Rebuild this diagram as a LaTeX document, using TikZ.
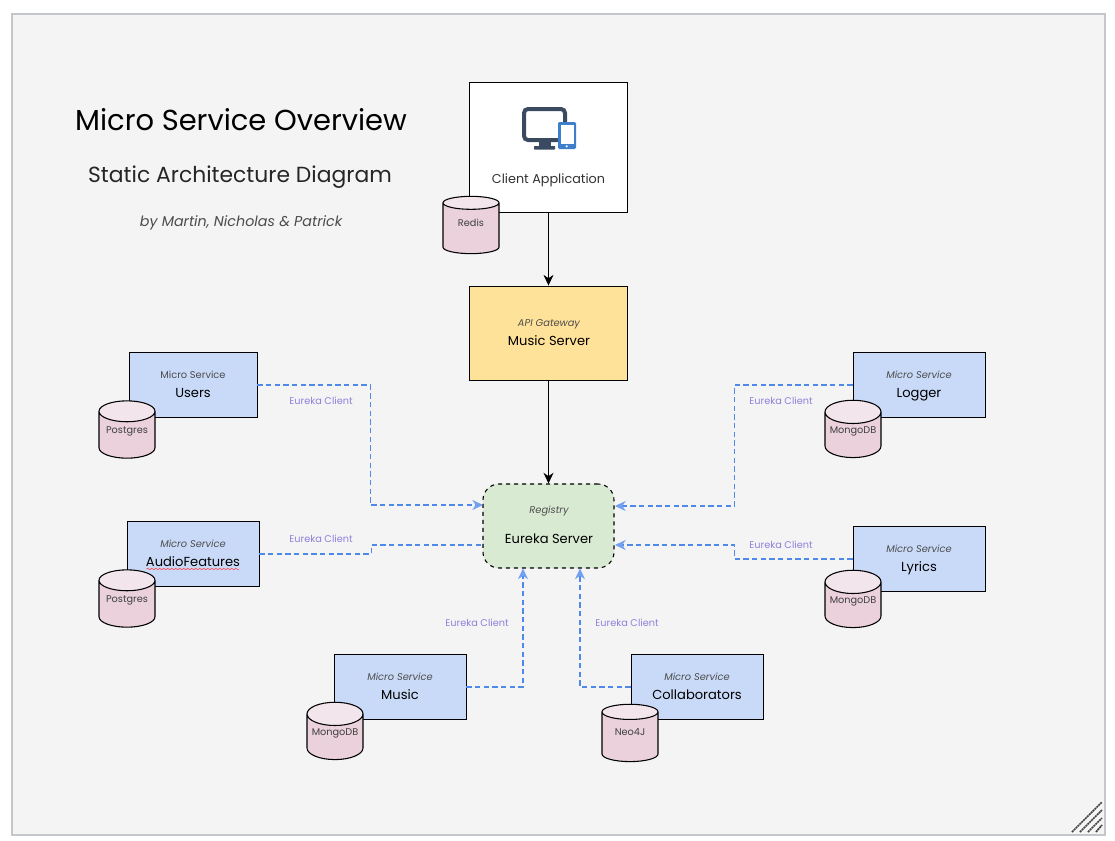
\documentclass[tikz,border=0pt]{standalone}
\usepackage{fontspec}
\setmainfont{Poppins}
\usetikzlibrary{calc,arrows.meta,shapes.geometric,decorations.pathmorphing}

\definecolor{framegray}{HTML}{C3C7CC}
\definecolor{pagegray}{HTML}{F4F4F4}
\definecolor{msblue}{HTML}{C9DAF8}
\definecolor{gatewayyellow}{HTML}{FFE299}
\definecolor{registrygreen}{HTML}{D9EAD3}
\definecolor{dbpink}{HTML}{EAD1DC}
\definecolor{dbtop}{HTML}{F3E5EC}
\definecolor{linkblue}{HTML}{4F8AEB}
\definecolor{linkpurple}{HTML}{8F80DC}
\definecolor{icondark}{HTML}{3A4A60}
\definecolor{iconblue}{HTML}{3D7FCB}

\tikzset{
    msbox/.style={draw=black,fill=msblue,line width=0.7pt,minimum height=48.75pt,inner sep=0pt},
    dbcyl/.style={draw=black,shape=cylinder,shape border rotate=90,aspect=0.5,
        cylinder uses custom fill,cylinder body fill=dbpink,cylinder end fill=dbtop,
        line width=0.8pt,minimum width=42pt,minimum height=43pt,inner sep=0pt,font=\fontsize{7.3}{9}\selectfont,text=black!75},
    kind/.style={font=\fontsize{7.4}{9}\selectfont\itshape,text=black!70,text height=6pt,text depth=2pt},
    msname/.style={font=\fontsize{9.8}{12}\selectfont,text=black,text height=7.5pt,text depth=2.5pt},
    eureka/.style={font=\fontsize{7.3}{9}\selectfont,text=linkpurple},
    blacklink/.style={draw=black,line width=0.8pt,-{Stealth[length=8pt,width=7.5pt,inset=2.5pt]}},
    bluelink/.style={draw=linkblue,line width=0.9pt,dash pattern=on 4pt off 2.5pt},
    bluearrow/.style={bluelink,-{Stealth[length=8pt,width=7.5pt,inset=2.5pt,color=linkblue!80]}},
}

\begin{document}
\begin{tikzpicture}[x=0.75pt,y=-0.75pt]

% Page and outer frame.
\useasboundingbox (0,0) rectangle (1115,840);
\fill[white] (0,0) rectangle (1115,840);
\draw[draw=framegray,fill=pagegray,line width=1pt] (12,14) rectangle (1105,835);

% Resize grip in the corner.
\foreach \a/\b in {1072/802,1080/810,1088/818,1096/825} {
    \draw[black!75,line width=1.3pt,dash pattern=on 1.5pt off 0.5pt]
        (\a,832) -- (1102,\b);
}

% Titles.
\node (title) at (241,120) {\fontsize{21.7}{26}\selectfont Micro Service Overview};
\node[text=black!85] (subtitle) at (240,177) {\fontsize{16.4}{20}\selectfont Static Architecture Diagram};
\node[text=black!70] (byline) at (241,223) {\fontsize{10.7}{13}\selectfont\itshape by Martin, Nicholas \& Patrick};

% Client, gateway and registry.
\node[draw=black,fill=white,line width=0.7pt,minimum width=118.5pt,minimum height=97.5pt] (client) at (548.5,147) {};
\node[text=black!80,font=\fontsize{9.6}{12}\selectfont] (clienttext) at (548.5,180) {Client Application};
\node[draw=black,fill=gatewayyellow,line width=0.7pt,minimum width=118.5pt,minimum height=70.5pt] (gateway) at (548.5,333) {};
\node[kind] (gatewaykind) at (549,323.5) {API Gateway};
\node[msname] (gatewayname) at (549,342) {Music Server};
\node[draw=black,fill=registrygreen,line width=0.8pt,dashed,rounded corners=12pt,minimum width=98.25pt,minimum height=63pt] (registry) at (548.5,526) {};
\node[kind] (registrykind) at (549,510.5) {Registry};
\node[msname] (registryname) at (549,540) {Eureka Server};

% Device icon.
\draw[icondark,line width=3pt,rounded corners=3pt]
    (565,122) -- (565,109) -- (524,109) -- (524,140) -- (558,140);
\fill[icondark] (539,141) rectangle (551,147);
\fill[icondark,rounded corners=0.5pt] (534,146) rectangle (555,149.5);
\fill[iconblue,rounded corners=1pt] (558,122) rectangle (576,149);
\fill[white] (560.5,125) rectangle (573.5,143.5);
\fill[white] (566.7,146.3) circle (1.2);

% Micro services. Loop for each box with its database.
\foreach \nm/\x/\y/\bw/\kd/\txt/\dbx/\dby/\dbt in {
    users/193/385/96pt/\upshape/Users/127/435/Postgres,
    audio/193/554/99pt/\itshape/AudioFeatures/127/604/Postgres,
    logger/919/385/99pt/\itshape/Logger/853/435/MongoDB,
    lyrics/919/559/99pt/\itshape/Lyrics/853/605/MongoDB,
    music/400/687/99pt/\itshape/Music/335/737/MongoDB,
    collab/697/687/99pt/\itshape/Collaborators/630/737/Neo4J} {

    \node[msbox,minimum width=\bw] (\nm) at (\x,\y) {};
    \node[msname] (\nm name) at (\x,\y+9.5) {\txt};
    \node[kind] (\nm kind) at (\x,\y-9.5) {\kd Micro Service};
    \node[dbcyl] (\nm db) at (\dbx,\dby) {\raisebox{1.5pt}[0pt][0pt]{\dbt}};
}

% Redis sits under the client.
\node[dbcyl] (redis) at (471,228.5) {\raisebox{1.5pt}[0pt][0pt]{Redis}};

% Spell check mark below AudioFeatures.
\draw[red!75,line width=0.4pt,decorate,decoration={snake,amplitude=0.6pt,segment length=3pt}]
    (146.5,569) coordinate (spellA) -- (239,569) coordinate (spellB);

% Ends at the registry.
\coordinate (regA) at (483,505);
\coordinate (regB) at (483,545);
\coordinate (regC) at (615,506);
\coordinate (regD) at (615,545);
\coordinate (regE) at (523,568.5);
\coordinate (regF) at (580,568.5);

% Black links.
\draw[blacklink] (client.south) -- (gateway.north);
\draw[blacklink] (gateway.south) -- (registry.north);

% Blue links.
\draw[bluearrow] (users.east) -- ++(113,0) |- (regA);
\draw[bluelink] (audio.east) -- ++(112,0) |- (regB);
\draw[bluearrow] (logger.west) -- ++(-118,0) |- (regC);
\draw[bluearrow] (lyrics.west) -- ++(-118,0) |- (regD);
\draw[bluearrow] (music.east) -| (regE);
\draw[bluearrow] (collab.west) -| (regF);

% Labels for the links.
\foreach \nm/\x/\y in {a/321/400.5,b/321/538.5,c/781/400.5,d/781/544.5,e/477/622.5,f/627/622.5} {
    \node[eureka] (eureka\nm) at (\x,\y) {Eureka Client};
}

\end{tikzpicture}
\end{document}
